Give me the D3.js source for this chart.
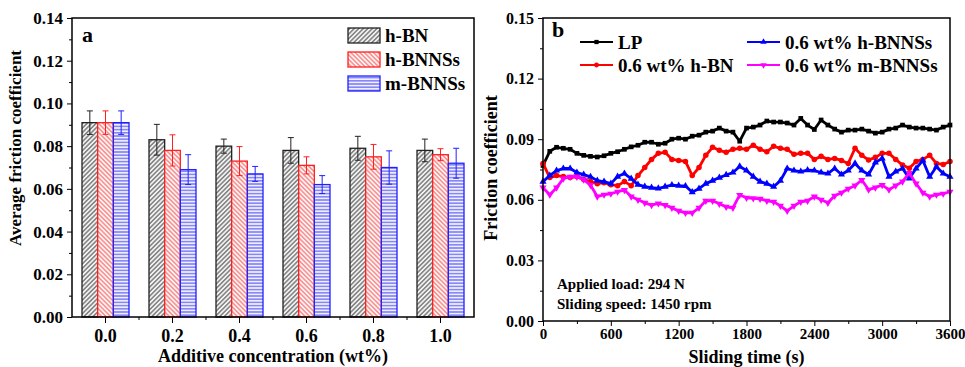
<!DOCTYPE html>
<html>
<head>
<meta charset="utf-8">
<script src="https://cdn.jsdelivr.net/npm/d3@7"></script>
<style>
body { margin: 0; background: #fff; }
svg { display: block; font-family: "Liberation Serif", "Times New Roman", serif; font-weight: bold; }
</style>
</head>
<body>
<div id="chart"></div>
<script>
// ---- panel a data ----
concLabels = ["0.0", "0.2", "0.4", "0.6", "0.8", "1.0"]
barSeries = ["h-BN", "h-BNNSs", "m-BNNSs"]
hBN = [0.091, 0.083, 0.080, 0.078, 0.079, 0.078]
hBNErr = [0.0055, 0.0072, 0.0033, 0.0060, 0.0056, 0.0053]
hBNNSs = [0.091, 0.078, 0.073, 0.071, 0.075, 0.076]
hBNNSsErr = [0.0055, 0.0073, 0.0068, 0.0040, 0.0058, 0.0028]
mBNNSs = [0.091, 0.069, 0.067, 0.062, 0.070, 0.072]
mBNNSsErr = [0.0055, 0.0070, 0.0035, 0.0042, 0.0078, 0.0070]
yTicksA = [0, 0.02, 0.04, 0.06, 0.08, 0.10, 0.12, 0.14]

// ---- panel b data (friction coefficient every 60 s) ----
times = d3.range(0, 3601, 60)
lineSeries = ["LP", "0.6 wt% h-BN", "0.6 wt% h-BNNSs", "0.6 wt% m-BNNSs"]
lp = [0.077, 0.084, 0.086, 0.0855, 0.085, 0.083, 0.082, 0.0815, 0.0812, 0.0818,
      0.083, 0.0838, 0.085, 0.0862, 0.087, 0.0885, 0.0885, 0.0875, 0.088, 0.090,
      0.0905, 0.090, 0.0915, 0.092, 0.0935, 0.094, 0.0955, 0.094, 0.0935, 0.089,
      0.0955, 0.096, 0.097, 0.099, 0.0985, 0.0985, 0.098, 0.097, 0.1003, 0.097,
      0.0948, 0.0995, 0.097, 0.095, 0.0935, 0.0945, 0.0945, 0.095, 0.094, 0.093,
      0.0935, 0.095, 0.0955, 0.097, 0.096, 0.0955, 0.0955, 0.095, 0.0945, 0.096, 0.097]
hbnLine = [0.078, 0.071, 0.072, 0.0715, 0.071, 0.0715, 0.070, 0.069, 0.068, 0.0685,
      0.0675, 0.067, 0.069, 0.067, 0.072, 0.076, 0.080, 0.083, 0.0835, 0.080,
      0.0795, 0.079, 0.072, 0.076, 0.082, 0.086, 0.0845, 0.0835, 0.085, 0.0855,
      0.085, 0.087, 0.085, 0.0838, 0.0865, 0.0855, 0.085, 0.0825, 0.083, 0.083,
      0.080, 0.0815, 0.080, 0.0805, 0.0795, 0.078, 0.0855, 0.082, 0.0797, 0.081,
      0.083, 0.083, 0.080, 0.0772, 0.0756, 0.079, 0.080, 0.082, 0.078, 0.0775, 0.079]
hbnnsLine = [0.069, 0.072, 0.0745, 0.0755, 0.0755, 0.0735, 0.0725, 0.0714, 0.0695, 0.069,
      0.068, 0.0715, 0.073, 0.0705, 0.0675, 0.0665, 0.066, 0.0656, 0.0665, 0.0673,
      0.067, 0.0668, 0.0638, 0.0655, 0.068, 0.0695, 0.071, 0.0723, 0.0735, 0.0765,
      0.0745, 0.0715, 0.069, 0.068, 0.0665, 0.0695, 0.0755, 0.0745, 0.074, 0.0747,
      0.0745, 0.0735, 0.073, 0.0755, 0.0725, 0.0745, 0.078, 0.0745, 0.0725, 0.0785,
      0.0805, 0.0714, 0.074, 0.0755, 0.0706, 0.0755, 0.0795, 0.0714, 0.0764, 0.073, 0.0714]
mbnnsLine = [0.066, 0.0625, 0.066, 0.0705, 0.0714, 0.0714, 0.070, 0.0673, 0.0616, 0.0625,
      0.063, 0.064, 0.0648, 0.0616, 0.060, 0.0585, 0.0574, 0.0582, 0.0574, 0.056,
      0.0545, 0.0535, 0.0535, 0.056, 0.0595, 0.0595, 0.058, 0.0565, 0.056, 0.0624,
      0.061, 0.0607, 0.0605, 0.0595, 0.059, 0.057, 0.0545, 0.057, 0.059, 0.0595,
      0.0616, 0.060, 0.0585, 0.062, 0.0635, 0.0655, 0.067, 0.0698, 0.065, 0.066,
      0.0673, 0.065, 0.067, 0.069, 0.0733, 0.068, 0.0635, 0.0616, 0.0625, 0.063, 0.064]
xTicksB = [0, 600, 1200, 1800, 2400, 3000, 3600]
yTicksB = [0, 0.03, 0.06, 0.09, 0.12, 0.15]

width = 965
height = 367
A = ({left: 72, right: 474, top: 18, bottom: 317})
B = ({left: 543, right: 950, top: 18, bottom: 321})

barColor = ["#222222", "#ff2020", "#2020ff"]
lineColor = ["#000000", "#ff0000", "#0000ff", "#ff00ff"]

var svg = d3.select("#chart").append("svg")
    .attr("width", width)
    .attr("height", height)
    .attr("viewBox", [0, 0, width, height])

// hatch patterns
const defs = svg.append("defs")
const pat = (id, bg, stroke, angle, gap) => {
    const p = defs.append("pattern")
        .attr("id", id)
        .attr("patternUnits", "userSpaceOnUse")
        .attr("width", gap).attr("height", gap)
        .attr("patternTransform", `rotate(${angle})`)
    p.append("rect").attr("width", gap).attr("height", gap).attr("fill", bg)
    p.append("line").attr("x1", 0).attr("x2", gap).attr("y1", gap / 2).attr("y2", gap / 2)
        .attr("stroke", stroke).attr("stroke-width", 1.1)
}
pat("p0", "#f2f2f2", "#555", -45, 3.2)
pat("p1", "#fff2f2", "#f26a6a", 45, 3.2)
pat("p2", "#eeeeff", "#5a5af0", 0, 3.2)

// ================= panel a =================
const barValues = [hBN, hBNNSs, mBNNSs]
const barErrs = [hBNErr, hBNNSsErr, mBNNSsErr]

x = d3.scaleBand().domain(concLabels).range([A.left, A.right])
xSub = d3.scaleBand().domain(barSeries).range([10, x.bandwidth() - 10])
y = d3.scaleLinear().domain([0, 0.14]).range([A.bottom, A.top])

const bars = barSeries.flatMap((s, j) => concLabels.map((c, i) => ({
    c: c, s: s, j: j, v: barValues[j][i], e: barErrs[j][i]
})))

svg.append("g").selectAll("rect")
    .data(bars)
    .enter().append("rect")
    .attr("x", d => x(d.c) + xSub(d.s))
    .attr("y", d => y(d.v))
    .attr("width", xSub.bandwidth())
    .attr("height", d => y(0) - y(d.v))
    .attr("fill", d => `url(#p${d.j})`)
    .attr("stroke", d => barColor[d.j])
    .attr("stroke-width", 1.3)

const err = svg.append("g").selectAll(".err")
    .data(bars)
    .enter().append("g")
    .attr("class", "err")
    .attr("stroke", d => barColor[d.j])
    .attr("stroke-width", 1)
    .attr("transform", d => `translate(${x(d.c) + xSub(d.s) + xSub.bandwidth() / 2},0)`)
err.append("line").attr("y1", d => y(d.v - d.e)).attr("y2", d => y(d.v + d.e))
err.append("line").attr("x1", -3).attr("x2", 3).attr("y1", d => y(d.v + d.e)).attr("y2", d => y(d.v + d.e))
err.append("line").attr("x1", -3).attr("x2", 3).attr("y1", d => y(d.v - d.e)).attr("y2", d => y(d.v - d.e))

// axes a
svg.append("g")
    .attr("transform", `translate(${A.left},0)`)
    .call(d3.axisLeft(y).tickValues(yTicksA).tickFormat(d3.format(".2f")).tickSize(5).tickSizeOuter(0).tickPadding(4))
    .call(g => g.select(".domain").remove())
    .attr("font-family", null).attr("font-size", 17)
svg.append("g")
    .attr("transform", `translate(${A.left},0)`)
    .call(d3.axisLeft(y).tickValues(yTicksA.slice(1).map(v => v - 0.01)).tickFormat("").tickSize(3))
    .call(g => g.select(".domain").remove())

svg.append("g")
    .attr("transform", `translate(0,${A.bottom})`)
    .call(d3.axisBottom(x).tickSize(6).tickSizeOuter(0).tickPadding(6))
    .call(g => g.select(".domain").remove())
    .attr("font-family", null).attr("font-size", 18)
svg.append("g").selectAll("line")
    .data(concLabels.slice(1))
    .enter().append("line")
    .attr("x1", d => x(d)).attr("x2", d => x(d))
    .attr("y1", A.bottom).attr("y2", A.bottom + 3)
    .attr("stroke", "#000")

svg.append("rect")
    .attr("x", A.left).attr("y", A.top)
    .attr("width", A.right - A.left).attr("height", A.bottom - A.top)
    .attr("fill", "none").attr("stroke", "#000").attr("stroke-width", 1.5)

svg.append("text").attr("x", 82).attr("y", 42).attr("font-size", 22).text("a")

svg.append("text")
    .attr("transform", "translate(21,148) rotate(-90)")
    .attr("text-anchor", "middle").attr("font-size", 17)
    .text("Average friction coefficient")
svg.append("text")
    .attr("x", (A.left + A.right) / 2).attr("y", 362)
    .attr("text-anchor", "middle").attr("font-size", 18)
    .text("Additive concentration (wt%)")

// legend a
const legA = svg.append("g").selectAll(".entry")
    .data(barSeries)
    .enter().append("g")
    .attr("class", "entry")
    .attr("transform", (d, i) => `translate(348,${28 + 24 * i})`)
legA.append("rect")
    .attr("width", 32).attr("height", 15)
    .attr("fill", (d, i) => `url(#p${i})`)
    .attr("stroke", (d, i) => barColor[i])
    .attr("stroke-width", 1.3)
legA.append("text")
    .attr("x", 37).attr("y", 7.5).attr("dy", "0.35em")
    .attr("font-size", 19)
    .text(d => d)

// ================= panel b =================
xb = d3.scaleLinear().domain([0, 3600]).range([B.left, B.right])
yb = d3.scaleLinear().domain([0, 0.15]).range([B.bottom, B.top])

const lineData = [lp, hbnLine, hbnnsLine, mbnnsLine]
const symbols = [d3.symbolSquare, d3.symbolCircle, d3.symbolTriangle, d3.symbolTriangle]
const symRot = [0, 0, 0, 180]

const line = d3.line().x((d, i) => xb(times[i])).y(d => yb(d))

const series = svg.append("g").selectAll(".series")
    .data(lineData)
    .enter().append("g")
    .attr("class", "series")
    .attr("fill", (d, i) => lineColor[i])
    .attr("stroke", (d, i) => lineColor[i])

series.append("path")
    .attr("d", d => line(d))
    .attr("fill", "none")
    .attr("stroke-width", 2.8)
    .attr("stroke-linejoin", "round")

series.each(function(vals, k) {
    d3.select(this).selectAll(".m")
        .data(vals)
        .enter().append("path")
        .attr("class", "m")
        .attr("stroke", "none")
        .attr("d", d3.symbol().type(symbols[k]).size(k == 1 ? 24 : 22))
        .attr("transform", (d, i) => `translate(${xb(times[i])},${yb(d)}) rotate(${symRot[k]})`)
})

// axes b
svg.append("g")
    .attr("transform", `translate(${B.left},0)`)
    .call(d3.axisLeft(yb).tickValues(yTicksB).tickFormat(d3.format(".2f")).tickSize(5).tickSizeOuter(0).tickPadding(4))
    .call(g => g.select(".domain").remove())
    .attr("font-family", null).attr("font-size", 16)
svg.append("g")
    .attr("transform", `translate(${B.left},0)`)
    .call(d3.axisLeft(yb).tickValues(yTicksB.slice(1).map(v => v - 0.015)).tickFormat("").tickSize(3))
    .call(g => g.select(".domain").remove())
svg.append("g")
    .attr("transform", `translate(0,${B.bottom})`)
    .call(d3.axisBottom(xb).tickValues(xTicksB).tickFormat(d3.format("d")).tickSize(5).tickSizeOuter(0).tickPadding(2))
    .call(g => g.select(".domain").remove())
    .attr("font-family", null).attr("font-size", 15)
svg.append("g")
    .attr("transform", `translate(0,${B.bottom})`)
    .call(d3.axisBottom(xb).tickValues(xTicksB.slice(1).map(v => v - 300)).tickFormat("").tickSize(3))
    .call(g => g.select(".domain").remove())

svg.append("rect")
    .attr("x", B.left).attr("y", B.top)
    .attr("width", B.right - B.left).attr("height", B.bottom - B.top)
    .attr("fill", "none").attr("stroke", "#000").attr("stroke-width", 1.5)

svg.append("text").attr("x", 552).attr("y", 37).attr("font-size", 22).text("b")

svg.append("text")
    .attr("transform", "translate(497,168) rotate(-90)")
    .attr("text-anchor", "middle").attr("font-size", 18)
    .text("Friction coefficient")
svg.append("text")
    .attr("x", (B.left + B.right) / 2).attr("y", 363)
    .attr("text-anchor", "middle").attr("font-size", 18)
    .text("Sliding time (s)")

svg.append("text").attr("x", 557).attr("y", 289).attr("font-size", 15).text("Applied load: 294 N")
svg.append("text").attr("x", 557).attr("y", 309).attr("font-size", 15).text("Sliding speed: 1450 rpm")

// legend b (two columns)
const legPos = [[580, 42], [580, 65], [747, 42], [747, 65]]
const legB = svg.append("g").selectAll(".lentry")
    .data(lineSeries)
    .enter().append("g")
    .attr("class", "lentry")
    .attr("transform", (d, i) => `translate(${legPos[i][0]},${legPos[i][1]})`)
legB.append("line")
    .attr("x1", 0).attr("x2", 33)
    .attr("stroke", (d, i) => lineColor[i]).attr("stroke-width", 1.8)
legB.append("path")
    .attr("d", (d, i) => d3.symbol().type(symbols[i]).size(18)())
    .attr("transform", (d, i) => `translate(16.5,0) rotate(${symRot[i]})`)
    .attr("fill", (d, i) => lineColor[i])
legB.append("text")
    .attr("x", 38).attr("dy", "0.35em")
    .attr("font-size", 19)
    .text(d => d)
</script>
</body>
</html>
